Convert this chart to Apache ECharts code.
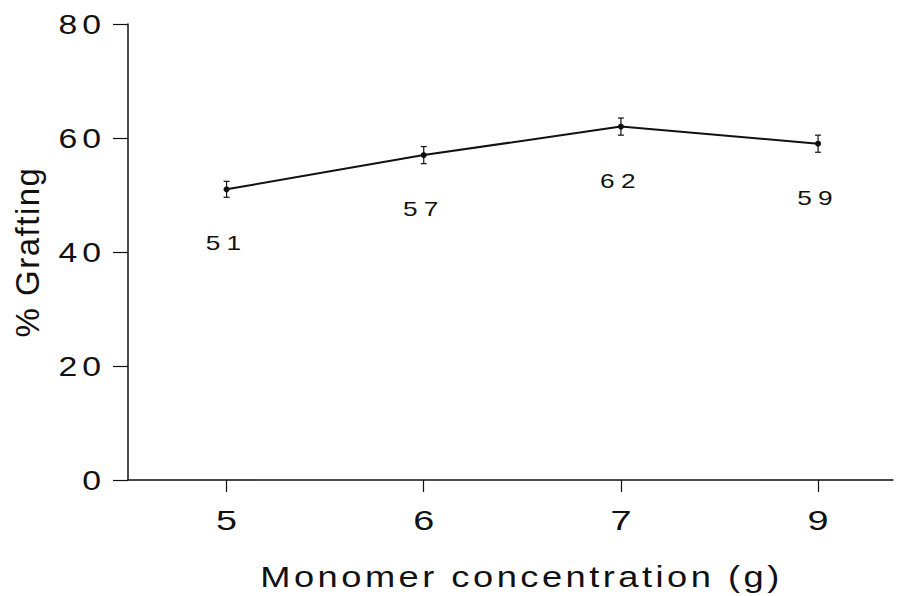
<!DOCTYPE html>
<html>
<head>
<meta charset="utf-8">
<script src="https://cdn.jsdelivr.net/npm/echarts@6/dist/echarts.min.js"></script>
<style>
  html, body { margin: 0; padding: 0; background: #ffffff; }
  #chart { width: 906px; height: 596px; }
</style>
</head>
<body>
<div id="chart"></div>
<script>
// Monomer concentration (g) on x, percentage grafting on y
const concentrations = ['5', '6', '7', '9'];
const grafting = [51, 57, 62, 59];
const graftingError = [1.4, 1.5, 1.5, 1.5];

const FONT = '"Liberation Sans", Arial, Helvetica, sans-serif';
const INK = '#111111';

const positions = concentrations.map((c, i) => i + 1);
const lineData = grafting.map((v, i) => [positions[i], v]);
const errorData = grafting.map((v, i) => [positions[i], v, graftingError[i]]);

const chart = echarts.init(document.getElementById('chart'), null, { renderer: 'svg' });

chart.setOption({
  animation: false,
  backgroundColor: '#ffffff',
  grid: { left: 128, right: 13, top: 24, bottom: 114 },
  xAxis: {
    type: 'value',
    min: 0.5,
    max: 4.38,
    name: 'Monomer concentration (g)',
    nameLocation: 'middle',
    nameGap: 82,
    nameTextStyle: { fontFamily: FONT, fontSize: 29, color: INK, padding: [0, 0, 0, 22] },
    splitLine: { show: false },
    axisLine: { show: true, lineStyle: { color: INK, width: 1.5 } },
    axisTick: {
      show: true,
      customValues: positions,
      length: 12,
      lineStyle: { color: INK, width: 1.2 }
    },
    axisLabel: {
      customValues: positions,
      margin: 26,
      fontFamily: FONT,
      fontSize: 28,
      color: INK,
      formatter: v => concentrations[Math.round(v) - 1]
    }
  },
  yAxis: {
    type: 'value',
    min: 0,
    max: 80,
    interval: 20,
    name: '% Grafting',
    nameLocation: 'middle',
    nameRotate: 90,
    nameGap: 84,
    nameTextStyle: { fontFamily: FONT, fontSize: 33, color: INK },
    splitLine: { show: false },
    axisLine: { show: true, lineStyle: { color: INK, width: 1.5 } },
    axisTick: { show: true, length: 15, lineStyle: { color: INK, width: 1.2 } },
    axisLabel: { margin: 22, fontFamily: FONT, fontSize: 27, color: INK }
  },
  series: [
    {
      type: 'line',
      data: lineData,
      symbol: 'circle',
      symbolSize: 6,
      itemStyle: { color: INK },
      lineStyle: { color: INK, width: 2 },
      label: {
        show: true,
        position: 'bottom',
        distance: 40,
        fontFamily: FONT,
        fontSize: 21,
        color: INK,
        formatter: p => String(p.value[1])
      },
      z: 3
    },
    {
      type: 'custom',
      data: errorData,
      renderItem: (params, api) => {
        const x = api.value(0);
        const y = api.value(1);
        const e = api.value(2);
        const top = api.coord([x, y + e]);
        const bot = api.coord([x, y - e]);
        const cap = 3;
        const st = { stroke: INK, lineWidth: 1.2 };
        return {
          type: 'group',
          children: [
            { type: 'line', shape: { x1: top[0], y1: top[1], x2: bot[0], y2: bot[1] }, style: st },
            { type: 'line', shape: { x1: top[0] - cap, y1: top[1], x2: top[0] + cap, y2: top[1] }, style: st },
            { type: 'line', shape: { x1: bot[0] - cap, y1: bot[1], x2: bot[0] + cap, y2: bot[1] }, style: st }
          ]
        };
      },
      z: 4
    }
  ]
});

// Wide, tracked lettering: each text class gets a horizontal stretch
// about its anchor point plus some letter spacing.
const lettering = {
  '27px': { stretch: 1.25, spacing: 4 },
  '28px': { stretch: 1.35, spacing: 0 },
  '29px': { stretch: 1.25, spacing: 2.8 },
  '21px': { stretch: 1.25, spacing: 5 },
  '33px': { stretch: 1, spacing: 1.5 }
};
function widenTexts() {
  document.querySelectorAll('#chart svg text').forEach(el => {
    if (el.dataset.widened) return;
    const look = lettering[getComputedStyle(el).fontSize];
    if (!look) return;
    if (look.spacing) el.style.letterSpacing = look.spacing + 'px';
    if (look.stretch !== 1) {
      const ax = parseFloat(el.getAttribute('x') || '0');
      const base = el.getAttribute('transform') || '';
      el.setAttribute('transform',
        base + ' translate(' + ax + ' 0) scale(' + look.stretch + ' 1) translate(' + (-ax) + ' 0)');
    }
    el.dataset.widened = '1';
  });
}
widenTexts();
chart.on('finished', widenTexts);
</script>
</body>
</html>
